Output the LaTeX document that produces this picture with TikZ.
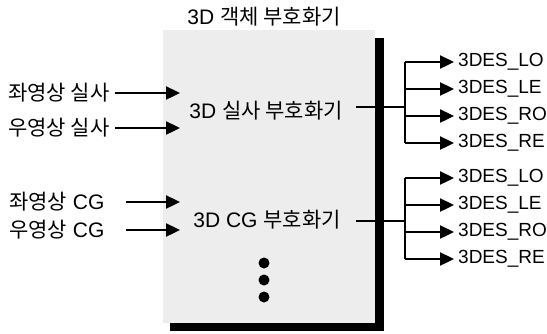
\documentclass[tikz,border=0pt]{standalone}
\usepackage{fontspec}
\setmainfont{Liberation Sans}
\newfontfamily\kr{Noto Sans CJK KR}
\usetikzlibrary{arrows.meta, positioning, calc}

\tikzset{
    lbl/.style={font=\fontsize{21}{21}\selectfont, inner sep=0pt},
    outlbl/.style={font=\fontsize{19}{19}\selectfont, inner sep=0pt, anchor=west},
    arr/.style={-{Triangle[length=14pt, width=13pt]}},
    dot/.style={circle, fill=black, inner sep=0pt, minimum size=11pt}
}

\begin{document}
\begin{tikzpicture}[x=1pt, y=-1pt, line width=2.4pt]
    \useasboundingbox (0,0) rectangle (547,333);

    % encoder box with its shadow
    \fill[black!7] (163,30) rectangle (375,323);
    \fill[black] (375,38) rectangle (384,331);
    \fill[black] (170,323) rectangle (384,331);

    \node[lbl] (title) at (264,17) {3D {\kr 객체 부호화기}};
    \node[lbl] (enc1) at (266,111) {3D {\kr 실사 부호화기}};
    \node[lbl] (enc2) at (267,220) {3D CG {\kr 부호화기}};

    \node[dot] (d1) at (264,263) {};
    \node[dot] (d2) at (264,280) {};
    \node[dot] (d3) at (264,297) {};

    % inputs
    \node[lbl, anchor=west] (in1) at (7,93) {\kr 좌영상 실사};
    \node[lbl, anchor=west] (in2) at (7,128) {\kr 우영상 실사};
    \node[lbl, anchor=west] (in3) at (8,202) {{\kr 좌영상} CG};
    \node[lbl, anchor=west] (in4) at (8,230) {{\kr 우영상} CG};

    \coordinate (e1) at (180,93);
    \coordinate (e2) at (180,128);
    \coordinate (e3) at (180,202);
    \coordinate (e4) at (180,230);

    \draw[arr] ([xshift=4pt]in1.east) -- (e1);
    \draw[arr] ([xshift=4pt]in2.east) -- (e2);
    \draw[arr] ([xshift=20pt]in3.east) -- (e3);
    \draw[arr] ([xshift=20pt]in4.east) -- (e4);

    % outputs
    \coordinate (b1) at (405,107);
    \coordinate (b2) at (405,221);
    \draw ([xshift=12pt]enc1.east |- b1) -- (b1);
    \draw ([xshift=14pt]enc2.east |- b2) -- (b2);

    \foreach \lab [count=\i] in {LO,LE,RO,RE} {
        \node[outlbl] (oa\i) at (457,{62+27*(\i-1)}) {3DES\_\lab};
        \node[outlbl] (ob\i) at (457,{178+27*(\i-1)}) {3DES\_\lab};
        \draw[arr] (b1 |- oa\i) -- ([xshift=-3pt]oa\i.west);
        \draw[arr] (b2 |- ob\i) -- ([xshift=-3pt]ob\i.west);
    }
    \draw (b1 |- oa1) -- (b1 |- oa4);
    \draw (b2 |- ob1) -- (b2 |- ob4);
\end{tikzpicture}
\end{document}
